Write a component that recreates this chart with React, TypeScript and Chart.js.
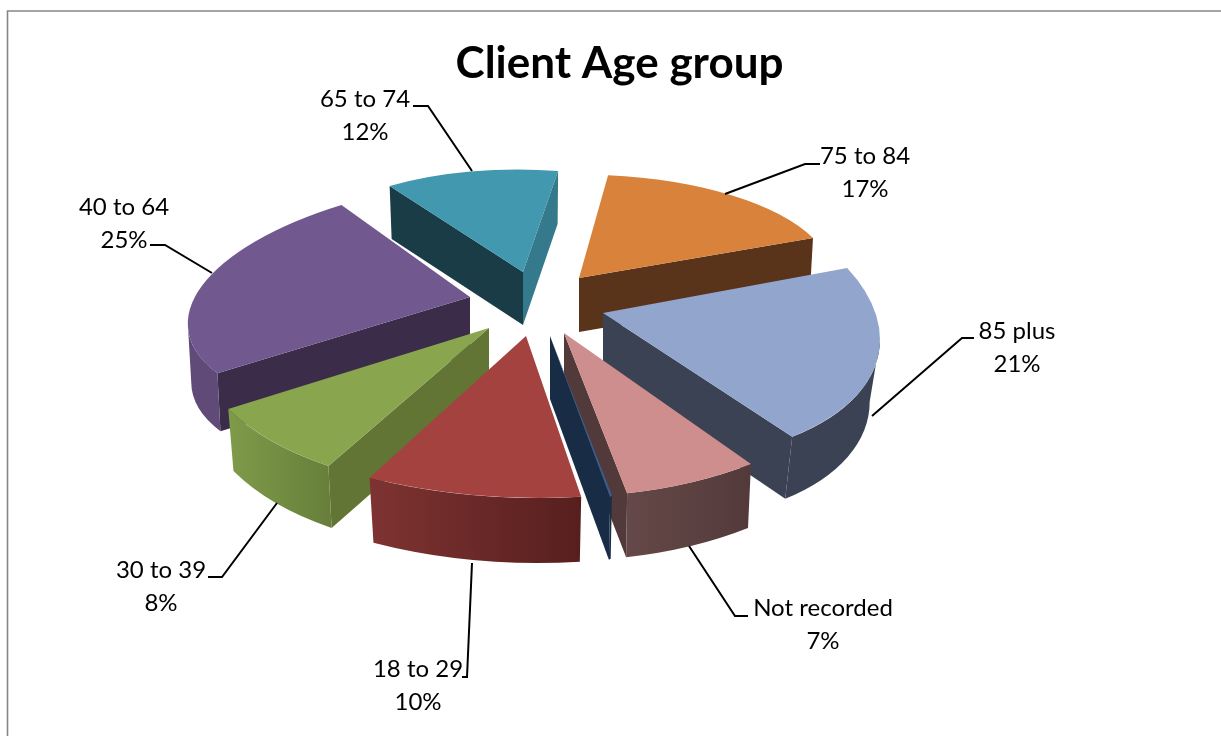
import React, { useEffect, useRef } from "react";
import { Chart, registerables } from "chart.js";

Chart.register(...registerables);

const WIDTH = 1221;
const HEIGHT = 736;
const FONT = "Lato, Carlito, 'Open Sans', sans-serif";

const chartTitle = "Client Age group";
const categories = ["75 to 84", "85 plus", "Not recorded", "Unspecified", "18 to 29", "30 to 39", "40 to 64", "65 to 74"];
const shares = [17, 21, 7, 0.7, 10, 8, 25, 12];
const hiddenLabel = [false, false, false, true, false, false, false, false];

const topColors = ["#D9823B", "#92A6CD", "#CE8E8D", "#376092", "#A3423F", "#89A54E", "#71588F", "#4198AF"];
const startSideColors = ["#59331A", "#3B4253", "#533A3A", "#182D45", "#7E3331", "#637534", "#3B2C49", "#1A3C47"];
const endSideColors = ["#59331A", "#3B4253", "#533A3A", "#182D45", "#561F1E", "#677F3B", "#3B2C49", "#347A8C"];
const wallLeftColors = ["#59331A", "#3B4253", "#654848", "#182D45", "#7E3331", "#7F9B49", "#5F4A78", "#1A3C47"];
const wallRightColors = ["#59331A", "#3B4253", "#533A3A", "#182D45", "#561F1E", "#677F3B", "#5F4A78", "#1A3C47"];

// view of each exploded slice: offset from the pie centre, in-plane matrix, extrusion depth and taper
const PIE_X = 530;
const PIE_Y = 315;
const explodeX = [49, 73, 34, 20, -4, -41, -60, -7];
const explodeY = [-37, -2, 18, 21, 21, 13, -18, -43];
const viewA = [0.888, 0.96, 1.098, 0.175, 1.223, 1.041, 0.985, 0.829];
const viewB = [0.053, 0.151, 0.048, 0.192, 0.053, -0.065, -0.1, 0.021];
const viewC = [-0.022, 0.013, -0.027, 0, -0.002, 0.021, -0.052, -0.001];
const viewD = [0.362, 0.516, 0.574, 0.568, 0.568, 0.566, 0.418, 0.36];
const depths = [54, 62, 64, 63, 65, 62, 58, 53];
const wallTaper = [0.987, 0.963, 0.984, 0.98, 0.975, 0.98, 0.988, 0.985];
const paintOrder = [7, 0, 6, 1, 5, 4, 2, 3];

// data label anchors and leader lines
const labelX = [865, 1017, 823, 0, 418, 161, 124, 365];
const labelY = [156, 331, 608, 0, 669, 570, 207, 99];
const leaderX = [[725, 805, 820], [872, 962, 974], [689, 735, 748], [], [472, 467, 462], [277, 222, 208], [212, 165, 150], [472, 428, 413]];
const leaderY = [[194, 164, 164], [416, 338, 338], [546, 616, 616], [], [563, 677, 677], [503, 577, 577], [273, 245, 245], [171, 106, 106]];

const pie3d = {
  id: "pie3d",
  beforeDraw(chart: any) {
    const { ctx } = chart;
    ctx.save();
    ctx.strokeStyle = "#868686";
    ctx.beginPath();
    ctx.moveTo(WIDTH, 11);
    ctx.lineTo(7.5, 11);
    ctx.lineTo(7.5, HEIGHT);
    ctx.lineWidth = 1.6;
    ctx.stroke();
    ctx.restore();
  },
  beforeDatasetDraw(chart: any, args: any) {
    const { ctx } = chart;
    const arcs = args.meta.data;
    for (const i of paintOrder) {
      const arc = arcs[i];
      const a = viewA[i], b = viewB[i], c = viewC[i], d = viewD[i];
      const e = PIE_X + explodeX[i] - a * arc.x - b * arc.y;
      const f = PIE_Y + explodeY[i] - c * arc.x - d * arc.y;
      const depth = depths[i];
      const k0 = wallTaper[i];
      const R = arc.outerRadius;
      const px = (t: number) => a * (arc.x + R * Math.cos(t)) + b * (arc.y + R * Math.sin(t)) + e;
      const py = (t: number) => c * (arc.x + R * Math.cos(t)) + d * (arc.y + R * Math.sin(t)) + f;
      const cx = a * arc.x + b * arc.y + e;
      const cy = c * arc.x + d * arc.y + f;
      const lowX = (x: number) => cx + (x - cx) * k0;
      const s = arc.startAngle;
      const en = arc.endAngle;

      const side = (t: number, color: string) => {
        ctx.save();
        ctx.fillStyle = color;
        ctx.beginPath();
        ctx.moveTo(cx, cy);
        ctx.lineTo(px(t), py(t));
        ctx.lineTo(lowX(px(t)), py(t) + depth);
        ctx.lineTo(cx, cy + depth);
        ctx.closePath();
        ctx.fill();
        ctx.restore();
      };
      if (px(s) < cx) side(s, startSideColors[i]);
      if (px(en) > cx) side(en, endSideColors[i]);

      // curved outer wall: only the part of the rim that faces the viewer
      const t0 = Math.atan2(b, a);
      for (let k = -1; k <= 1; k++) {
        const lo = Math.max(s, t0 + 2 * Math.PI * k);
        const hi = Math.min(en, t0 + Math.PI + 2 * Math.PI * k);
        if (hi <= lo) continue;
        ctx.save();
        ctx.beginPath();
        ctx.setTransform(a, c, b, d, e, f);
        ctx.arc(arc.x, arc.y, R, lo, hi);
        ctx.setTransform(a * k0, c, b * k0, d, cx - k0 * (a * arc.x + b * arc.y), f + depth);
        ctx.arc(arc.x, arc.y, R, hi, lo, true);
        ctx.closePath();
        ctx.setTransform(1, 0, 0, 1, 0, 0);
        const x1 = Math.min(px(lo), px(hi));
        const x2 = Math.max(px(lo), px(hi));
        const g = ctx.createLinearGradient(x1, 0, x2 + 1, 0);
        g.addColorStop(0, wallLeftColors[i]);
        g.addColorStop(1, wallRightColors[i]);
        ctx.fillStyle = g;
        ctx.fill();
        ctx.restore();
      }

      ctx.save();
      ctx.setTransform(a, c, b, d, e, f);
      arc.draw(ctx);
      ctx.restore();
    }
    return false;
  },
  afterDraw(chart: any) {
    const { ctx } = chart;
    const total = shares.reduce((p, v) => p + v, 0);
    ctx.save();
    categories.forEach((name, i) => {
      if (hiddenLabel[i]) return;
      ctx.strokeStyle = "#000000";
      ctx.lineWidth = 2;
      ctx.beginPath();
      leaderX[i].forEach((x, j) => {
        if (j === 0) ctx.moveTo(x, leaderY[i][j]);
        else ctx.lineTo(x, leaderY[i][j]);
      });
      ctx.stroke();
      ctx.fillStyle = "#000000";
      ctx.font = `24px ${FONT}`;
      ctx.textAlign = "center";
      ctx.textBaseline = "middle";
      ctx.fillText(name, labelX[i], labelY[i]);
      ctx.fillText(`${Math.round((shares[i] / total) * 100)}%`, labelX[i], labelY[i] + 33);
    });
    ctx.restore();
  },
};

export default function App() {
  const ref = useRef<HTMLCanvasElement | null>(null);
  useEffect(() => {
    if (!ref.current) return;
    const chart = new Chart(ref.current, {
      type: "pie",
      data: {
        labels: categories,
        datasets: [
          {
            data: shares,
            backgroundColor: topColors,
            borderWidth: 0,
            clip: false,
          } as any,
        ],
      },
      options: {
        animation: false,
        responsive: false,
        devicePixelRatio: 1,
        rotation: 10,
        radius: 285,
        layout: { padding: { left: 18, right: 0, top: 0, bottom: 0 } },
        plugins: {
          legend: { display: false },
          tooltip: { enabled: false },
          title: {
            display: true,
            text: chartTitle,
            color: "#000000",
            font: { family: FONT, size: 44, weight: "bold" },
            padding: { top: 37, bottom: 0 },
          },
        },
      } as any,
      plugins: [pie3d as any],
    });
    return () => chart.destroy();
  }, []);
  return (
    <canvas
      ref={ref}
      width={WIDTH}
      height={HEIGHT}
      style={{ position: "fixed", left: 0, top: 0, display: "block", width: WIDTH, height: HEIGHT }}
    />
  );
}
